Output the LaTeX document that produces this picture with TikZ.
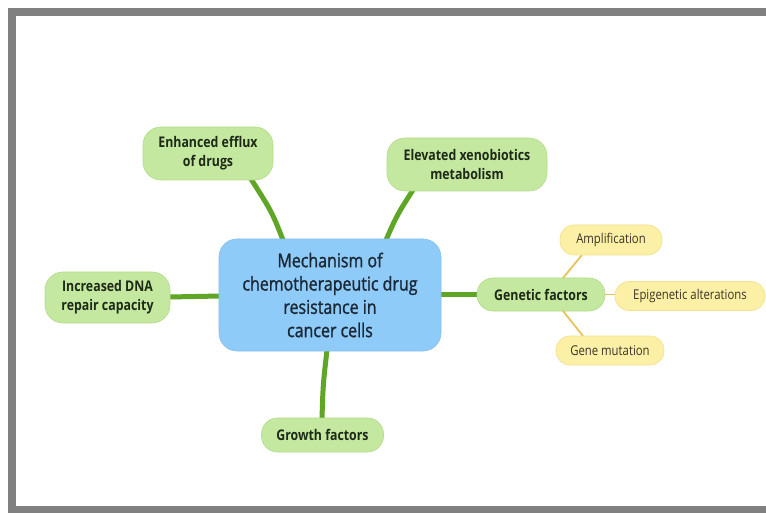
\documentclass[tikz,border=0pt]{standalone}
\usepackage{fontspec}
\setmainfont{Open Sans}[FakeStretch=0.84]
\definecolor{frame}{HTML}{808080}
\definecolor{gfill}{HTML}{C5E8A0}
\definecolor{gline}{HTML}{B3DC88}
\definecolor{bfill}{HTML}{8FCBF8}
\definecolor{bline}{HTML}{84C2F2}
\definecolor{yfill}{HTML}{FCEFA6}
\definecolor{yline}{HTML}{F3E08C}
\definecolor{branch}{HTML}{5FA526}
\definecolor{ybranch}{HTML}{E6C45A}
\definecolor{ctext}{HTML}{1B2836}
\definecolor{gtext}{HTML}{1E2A18}
\definecolor{ytext}{HTML}{3A3526}
\tikzset{
  centerbox/.style={draw=bline, fill=bfill, line width=0.6pt, rounded corners=18pt,
    minimum width=222pt, minimum height=112pt, align=center, text=ctext,
    font=\fontsize{19}{23.3}\selectfont\addfontfeature{FakeBold=1.3}, inner sep=0pt},
  greenbox/.style={draw=gline, fill=gfill, line width=0.6pt, rounded corners=16pt,
    align=center, text=gtext, font=\fontsize{14.7}{19}\selectfont\bfseries, inner sep=0pt},
  yellowbox/.style={draw=yline, fill=yfill, line width=0.6pt, rounded corners=14pt,
    align=center, text=ytext, font=\fontsize{13.5}{15}\selectfont, inner sep=0pt},
  mainbranch/.style={draw=branch, line width=5pt},
  subbranch/.style={draw=ybranch, line width=1.8pt},
}
\begin{document}
\begin{tikzpicture}[x=1pt,y=-1pt]
\useasboundingbox (0,0) rectangle (766,513);
\fill[white] (0,0) rectangle (766,513);
\draw[frame, line width=8pt] (12,12) rectangle (800,510);
% edges first
\coordinate (cE) at (283,240);
\coordinate (cX) at (386,240);
\coordinate (cD) at (221,296);
\coordinate (cG) at (440,294);
\coordinate (cW) at (327,350);
\coordinate (eE) at (251,179);
\coordinate (eX) at (413,190);
\coordinate (eD) at (169,297);
\coordinate (eG) at (478,294);
\coordinate (eW) at (322,419);
\draw[mainbranch] (cE) .. controls (272,212) .. (eE);
\draw[mainbranch] (cX) .. controls (397,215) .. (eX);
\draw[mainbranch] (cD) -- (eD);
\draw[mainbranch] (cG) -- (eG);
\draw[mainbranch] (cW) .. controls (323,385) .. (eW);
% nodes
\node[centerbox] (c) at (330,295) {Mechanism of\\chemotherapeutic drug\\resistance in\\cancer cells};
\node[greenbox, minimum width=130pt, minimum height=53pt, rounded corners=18pt] (eff) at (208,153.5) {Enhanced efflux\\of drugs};
\node[greenbox, minimum width=160pt, minimum height=53pt, rounded corners=18pt] (xen) at (467,164.5) {Elevated xenobiotics\\metabolism};
\node[greenbox, minimum width=125pt, minimum height=51pt, rounded corners=18pt] (dna) at (107.5,297.5) {Increased DNA\\repair capacity};
\node[greenbox, minimum width=128pt, minimum height=33pt] (gen) at (541,294.5) {Genetic factors};
\node[greenbox, minimum width=122pt, minimum height=34pt] (gro) at (322.5,435) {Growth factors};
% yellow branches
\draw[subbranch] (563,278) -- (582,255);
\draw[subbranch] (605,294.5) -- (615,294.5);
\draw[subbranch] (563,311) -- (583,336);
\node[yellowbox, minimum width=102pt, minimum height=30pt] (amp) at (611,240) {Amplification};
\node[yellowbox, minimum width=150pt, minimum height=29pt] (epi) at (690,296) {Epigenetic alterations};
\node[yellowbox, minimum width=108pt, minimum height=29pt] (mut) at (610,350.5) {Gene mutation};
\end{tikzpicture}
\end{document}
